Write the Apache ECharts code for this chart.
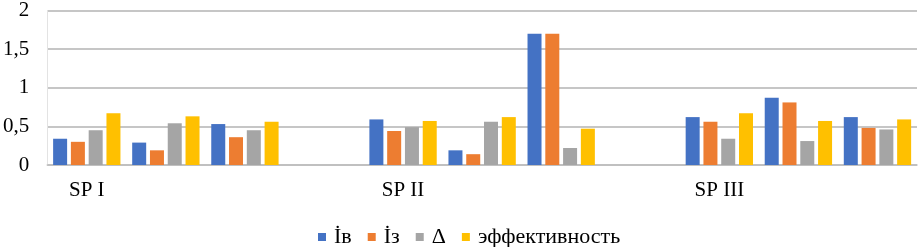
<!DOCTYPE html>
<html>
<head>
<meta charset="utf-8">
<script src="https://cdn.jsdelivr.net/npm/echarts@6/dist/echarts.min.js"></script>
<style>
  html, body { margin: 0; padding: 0; background: #fff; }
  #chart { width: 919px; height: 247px; }
</style>
</head>
<body>
<div id="chart"></div>
<script>
  // categories: three groups of three, with empty slots between groups
  const categories = ['SP I', '', '', '', 'SP II', '', '', '', 'SP III', '', '']
  const yTicks = [0, 0.5, 1, 1.5, 2]

  const iv = [0.34, 0.29, 0.53, null, 0.59, 0.19, 1.70, null, 0.62, 0.87, 0.62]
  const iz = [0.30, 0.19, 0.36, null, 0.44, 0.14, 1.70, null, 0.56, 0.81, 0.48]
  const delta = [0.45, 0.54, 0.45, null, 0.49, 0.56, 0.22, null, 0.34, 0.31, 0.46]
  const eff = [0.67, 0.63, 0.56, null, 0.57, 0.62, 0.47, null, 0.67, 0.57, 0.59]

  const font = '"Liberation Serif", "Times New Roman", serif'

  const chart = echarts.init(document.getElementById('chart'))

  const makeBar = (name, color, data) => ({
    name: name,
    type: 'bar',
    barWidth: 14,
    barGap: '27%',
    itemStyle: { color: color },
    data: data,
  })

  const option = {
    animation: false,
    grid: {
      left: 45,
      right: 2,
      top: 8,
      bottom: 82,
    },
    legend: {
      top: 221,
      left: 313,
      itemWidth: 8,
      itemHeight: 8,
      itemGap: 16,
      icon: 'rect',
      textStyle: {
        fontFamily: font,
        fontSize: 22,
        color: '#000',
        padding: [0, 0, 0, 3],
      },
      data: ['İв', 'İз', 'Δ', 'эффективность'],
    },
    xAxis: {
      type: 'category',
      data: categories,
      axisTick: { show: false },
      axisLine: { lineStyle: { color: '#bfbfbf', width: 1.5 } },
      axisLabel: {
        interval: 0,
        margin: 15,
        fontFamily: font,
        fontSize: 21,
        color: '#000',
      },
    },
    yAxis: {
      type: 'value',
      min: yTicks[0],
      max: yTicks[yTicks.length - 1],
      interval: 0.5,
      axisLine: { show: true, lineStyle: { color: '#e3e3e3' } },
      axisTick: { show: false },
      splitLine: { lineStyle: { color: '#b3b3b3', width: 1.5 } },
      axisLabel: {
        margin: 18,
        fontFamily: font,
        fontSize: 21,
        color: '#000',
        formatter: (v) => String(v).replace('.', ','),
      },
    },
    series: [
      makeBar('İв', '#4472C4', iv),
      makeBar('İз', '#ED7D31', iz),
      makeBar('Δ', '#A5A5A5', delta),
      makeBar('эффективность', '#FFC000', eff),
    ],
  }

  chart.setOption(option)
</script>
</body>
</html>
